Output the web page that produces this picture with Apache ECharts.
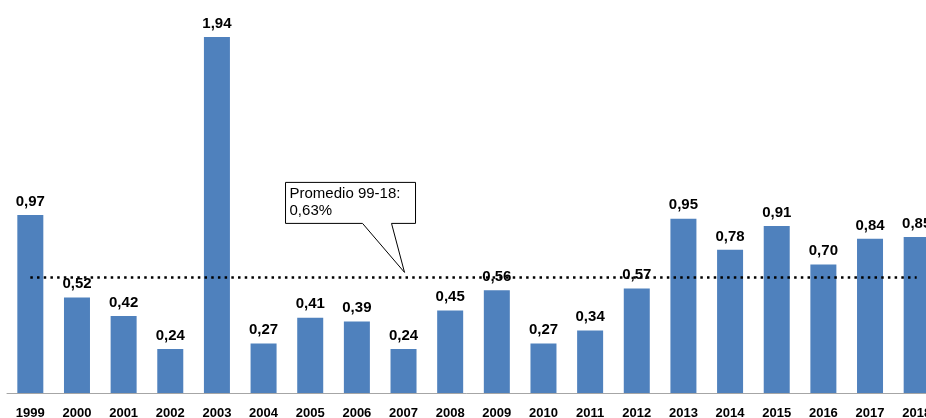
<!DOCTYPE html>
<html>
<head>
<meta charset="utf-8">
<script src="https://cdn.jsdelivr.net/npm/echarts@6/dist/echarts.min.js"></script>
<style>
  html, body { margin: 0; padding: 0; background: #fff; }
  #chart { width: 926px; height: 418px; }
</style>
</head>
<body>
<div id="chart"></div>
<script>
// años y valores (%)
var years = ['1999', '2000', '2001', '2002', '2003', '2004', '2005', '2006', '2007', '2008',
  '2009', '2010', '2011', '2012', '2013', '2014', '2015', '2016', '2017', '2018']
var values = [0.97, 0.52, 0.42, 0.24, 1.94, 0.27, 0.41, 0.39, 0.24, 0.45,
  0.56, 0.27, 0.34, 0.57, 0.95, 0.78, 0.91, 0.70, 0.84, 0.85]
var average = 0.63
var calloutLines = ['Promedio 99-18:', '0,63%']
var calloutYear = '2007'

function fmt(v) {
  return v.toFixed(2).replace('.', ',')
}

var chart = echarts.init(document.getElementById('chart'))
chart.setOption({
  animation: false,
  // el gráfico original está recortado a la derecha
  grid: { left: 7, width: 933, top: 26, bottom: 25, outerBoundsMode: 'none', containLabel: false },
  xAxis: {
    type: 'category',
    data: years,
    axisLine: { lineStyle: { color: '#a6a6a6', width: 1 } },
    axisTick: { show: false },
    axisLabel: {
      color: '#000',
      fontFamily: 'Liberation Sans, Arial, sans-serif',
      fontWeight: 'bold',
      fontSize: 13,
      margin: 14,
      interval: 0
    }
  },
  yAxis: {
    type: 'value',
    min: 0,
    max: 2,
    show: false,
    splitLine: { show: false }
  },
  series: [
    {
      type: 'bar',
      data: values,
      barWidth: 26,
      itemStyle: { color: '#4f81bd' },
      label: {
        show: true,
        position: 'top',
        distance: 6,
        color: '#000',
        fontFamily: 'Liberation Sans, Arial, sans-serif',
        fontWeight: 'bold',
        fontSize: 15,
        formatter: function (p) { return fmt(p.value) }
      },
      markLine: {
        silent: true,
        symbol: 'none',
        label: { show: false },
        lineStyle: { color: '#000', width: 2.5, type: [2.5, 4.2], cap: 'butt' },
        data: [[
          { coord: [years[0], average] },
          { coord: [years[years.length - 1], average] }
        ]]
      }
    }
  ]
})

// bocadillo con el promedio
var tip = chart.convertToPixel({ seriesIndex: 0 }, [calloutYear, average])
var tx = tip[0] + 1
var ty = tip[1] - 5
var bx = tx - 119
var by = ty - 90
var bw = 130
var bh = 41
chart.setOption({
  graphic: [
    {
      type: 'polygon',
      shape: {
        points: [
          [bx, by], [bx + bw, by], [bx + bw, by + bh],
          [tx - 13, by + bh], [tx, ty], [tx - 42, by + bh],
          [bx, by + bh]
        ]
      },
      style: { fill: '#fff', stroke: '#000', lineWidth: 1 },
      z: 100
    },
    {
      type: 'text',
      x: bx + 4,
      y: by + 3,
      style: {
        text: calloutLines.join('\n'),
        font: '15px Liberation Sans, Arial, sans-serif',
        lineHeight: 17,
        fill: '#000'
      },
      z: 101
    }
  ]
})
</script>
</body>
</html>
